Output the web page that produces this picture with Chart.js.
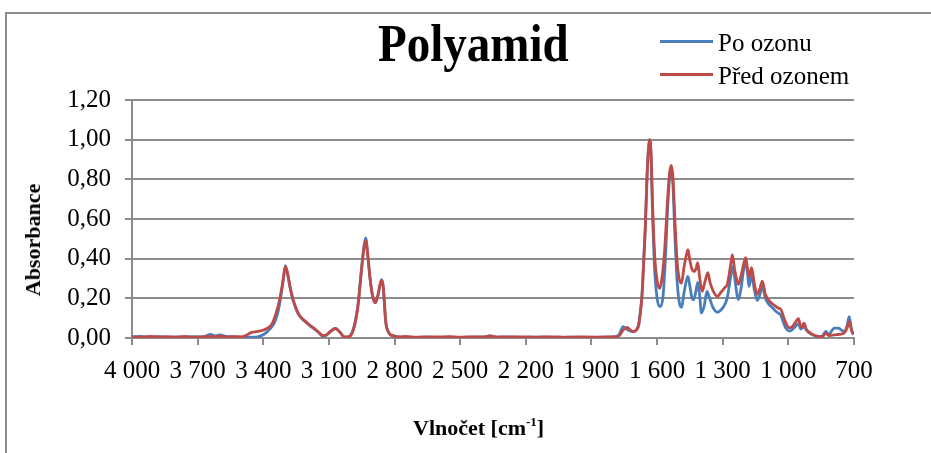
<!DOCTYPE html>
<html>
<head>
<meta charset="utf-8">
<script src="https://cdn.jsdelivr.net/npm/chart.js@4/dist/chart.umd.min.js"></script>
<style>
  html, body { margin: 0; padding: 0; background: #fff; }
  #wrap { position: relative; width: 931px; height: 453px; overflow: hidden; font-family: 'Liberation Serif', 'Times New Roman', serif; }
  #frame { position: absolute; left: 5px; top: 12px; width: 1000px; height: 500px; border-left: 2px solid #8c8c8c; border-top: 2px solid #8c8c8c; }
  #chartId { position: absolute; left: 0; top: 0; }
  .txt { position: absolute; white-space: nowrap; line-height: 1; color: #000; }
  #title { left: 378px; top: 20px; font-size: 47px; font-weight: bold; transform: scaleY(1.12); }
  .leg { position: absolute; left: 660px; width: 53px; height: 3px; }
  #xtitle { left: 413px; top: 415px; font-size: 22px; font-weight: bold; }
  #ytitle { left: 33px; top: 240px; font-size: 22px; font-weight: bold; transform: translate(-50%, -50%) rotate(-90deg); }
</style>
</head>
<body>
<div id="wrap">
  <div id="frame"></div>
  <canvas id="chartId" width="931" height="453"></canvas>
  <div class="txt" id="title">Polyamid</div>
  <div class="leg" style="top:40px; background:#4a7ebb;"></div>
  <div class="txt" style="left:718px; top:30px; font-size:25px;">Po ozonu</div>
  <div class="leg" style="top:73px; background:#be4b48;"></div>
  <div class="txt" style="left:718px; top:63px; font-size:25px;">Před ozonem</div>
  <div class="txt" id="xtitle">Vlnočet [cm<sup style="font-size:13px; vertical-align:9px;">-1</sup>]</div>
  <div class="txt" id="ytitle">Absorbance</div>
</div>
<script>
// spectrum after ozone exposure
var poWavenumber = [4000, 3960, 3920, 3880, 3840, 3800, 3760, 3720, 3680, 3640, 3620, 3600, 3570, 3540, 3500, 3460, 3425, 3395, 3370, 3350, 3334, 3318, 3308, 3299, 3290, 3275, 3265, 3250, 3235, 3204, 3185, 3166, 3145, 3128, 3110, 3090, 3070, 3050, 3030, 3015, 2995, 2980, 2967, 2952, 2940, 2932, 2922, 2912, 2900, 2888, 2875, 2866, 2859, 2852, 2840, 2825, 2810, 2780, 2750, 2700, 2650, 2600, 2550, 2500, 2450, 2400, 2365, 2340, 2300, 2250, 2200, 2150, 2100, 2050, 2000, 1950, 1900, 1850, 1800, 1775, 1755, 1740, 1722, 1707, 1695, 1684, 1675, 1669, 1660, 1654, 1646, 1639, 1634, 1628, 1620, 1610, 1600, 1590, 1582, 1572, 1562, 1552, 1542, 1535, 1528, 1518, 1508, 1497, 1488, 1478, 1466, 1459, 1450, 1440, 1432, 1422, 1414, 1406, 1397, 1385, 1372, 1360, 1345, 1325, 1305, 1290, 1279, 1265, 1256, 1245, 1235, 1228, 1215, 1205, 1195, 1187, 1180, 1168, 1155, 1142, 1130, 1119, 1105, 1089, 1070, 1058, 1045, 1035, 1020, 1012, 997, 985, 970, 954, 943, 936, 929, 918, 909, 887, 864, 845, 829, 815, 800, 790, 770, 758, 745, 732, 722, 714, 707, 700];
var poAbsorbance = [0.005, 0.008, 0.004, 0.007, 0.003, 0.006, 0.004, 0.007, 0.005, 0.018, 0.010, 0.016, 0.008, 0.006, 0.004, 0.004, 0.006, 0.020, 0.045, 0.075, 0.125, 0.220, 0.300, 0.365, 0.330, 0.240, 0.195, 0.145, 0.112, 0.079, 0.060, 0.045, 0.025, 0.010, 0.015, 0.035, 0.048, 0.030, 0.005, 0.004, 0.025, 0.080, 0.170, 0.340, 0.460, 0.505, 0.420, 0.300, 0.210, 0.178, 0.220, 0.270, 0.294, 0.260, 0.080, 0.025, 0.012, 0.005, 0.002, 0.003, 0.004, 0.003, 0.004, 0.003, 0.004, 0.004, 0.010, 0.005, 0.004, 0.004, 0.003, 0.004, 0.004, 0.003, 0.004, 0.003, 0.004, 0.003, 0.005, 0.015, 0.057, 0.045, 0.035, 0.033, 0.042, 0.070, 0.150, 0.220, 0.420, 0.560, 0.820, 0.960, 1.000, 0.930, 0.600, 0.320, 0.200, 0.160, 0.160, 0.220, 0.400, 0.650, 0.820, 0.850, 0.780, 0.500, 0.280, 0.170, 0.155, 0.220, 0.290, 0.310, 0.260, 0.200, 0.193, 0.240, 0.280, 0.220, 0.126, 0.160, 0.235, 0.200, 0.155, 0.130, 0.145, 0.170, 0.205, 0.300, 0.360, 0.300, 0.220, 0.193, 0.260, 0.340, 0.380, 0.330, 0.260, 0.320, 0.240, 0.190, 0.220, 0.260, 0.200, 0.170, 0.150, 0.135, 0.125, 0.115, 0.070, 0.050, 0.035, 0.040, 0.055, 0.072, 0.045, 0.050, 0.060, 0.040, 0.030, 0.015, 0.008, 0.010, 0.033, 0.017, 0.040, 0.050, 0.050, 0.040, 0.033, 0.060, 0.108, 0.060, 0.025, 0.020];

// spectrum before ozone exposure
var predWavenumber = [4000, 3960, 3920, 3880, 3840, 3800, 3760, 3720, 3680, 3640, 3620, 3600, 3570, 3540, 3500, 3480, 3456, 3425, 3395, 3370, 3357, 3340, 3326, 3311, 3299, 3290, 3275, 3265, 3250, 3235, 3204, 3185, 3166, 3145, 3128, 3110, 3090, 3070, 3050, 3030, 3015, 2995, 2980, 2967, 2952, 2940, 2932, 2922, 2912, 2900, 2888, 2875, 2866, 2859, 2852, 2840, 2825, 2810, 2780, 2750, 2700, 2650, 2600, 2550, 2500, 2450, 2400, 2360, 2330, 2300, 2250, 2200, 2150, 2100, 2050, 2000, 1950, 1900, 1850, 1800, 1775, 1755, 1737, 1722, 1707, 1695, 1684, 1675, 1669, 1660, 1654, 1646, 1639, 1634, 1628, 1620, 1610, 1600, 1588, 1578, 1565, 1552, 1542, 1534, 1527, 1518, 1508, 1497, 1488, 1478, 1466, 1459, 1450, 1440, 1432, 1422, 1414, 1406, 1394, 1382, 1368, 1358, 1345, 1325, 1305, 1290, 1279, 1265, 1256, 1245, 1235, 1228, 1215, 1203, 1195, 1187, 1180, 1168, 1155, 1142, 1130, 1119, 1105, 1089, 1070, 1058, 1045, 1035, 1020, 1012, 997, 985, 970, 954, 943, 936, 929, 918, 909, 887, 864, 845, 829, 815, 800, 780, 758, 745, 732, 722, 714, 707, 700];
var predAbsorbance = [0.006, 0.004, 0.008, 0.005, 0.007, 0.003, 0.008, 0.004, 0.006, 0.008, 0.005, 0.010, 0.005, 0.007, 0.006, 0.012, 0.027, 0.033, 0.042, 0.058, 0.078, 0.130, 0.190, 0.280, 0.360, 0.330, 0.245, 0.200, 0.150, 0.115, 0.080, 0.063, 0.047, 0.027, 0.012, 0.017, 0.037, 0.048, 0.030, 0.006, 0.005, 0.022, 0.075, 0.160, 0.330, 0.450, 0.490, 0.410, 0.300, 0.210, 0.178, 0.220, 0.270, 0.290, 0.260, 0.080, 0.025, 0.012, 0.006, 0.008, 0.004, 0.006, 0.005, 0.007, 0.004, 0.006, 0.005, 0.010, 0.004, 0.006, 0.005, 0.006, 0.004, 0.006, 0.005, 0.004, 0.006, 0.004, 0.005, 0.006, 0.010, 0.040, 0.054, 0.040, 0.033, 0.040, 0.065, 0.140, 0.210, 0.410, 0.550, 0.810, 0.960, 1.000, 0.940, 0.650, 0.400, 0.290, 0.250, 0.300, 0.450, 0.700, 0.840, 0.870, 0.800, 0.580, 0.380, 0.290, 0.277, 0.350, 0.420, 0.445, 0.390, 0.345, 0.336, 0.350, 0.380, 0.310, 0.235, 0.280, 0.330, 0.280, 0.240, 0.210, 0.235, 0.255, 0.270, 0.360, 0.420, 0.340, 0.290, 0.270, 0.320, 0.380, 0.405, 0.350, 0.310, 0.355, 0.270, 0.220, 0.250, 0.287, 0.220, 0.190, 0.170, 0.160, 0.150, 0.145, 0.100, 0.077, 0.052, 0.055, 0.075, 0.098, 0.055, 0.060, 0.075, 0.045, 0.033, 0.017, 0.008, 0.006, 0.025, 0.012, 0.015, 0.017, 0.020, 0.025, 0.050, 0.083, 0.050, 0.025, 0.030];

var xTicks = [4000, 3700, 3400, 3100, 2800, 2500, 2200, 1900, 1600, 1300, 1000, 700];
var yTicks = [0, 0.2, 0.4, 0.6, 0.8, 1.0, 1.2];

function toPoints(xs, ys) {
    return xs.map(function (x, i) { return { x: x, y: ys[i] }; });
}

var axisGray = '#8c8c8c';
Chart.defaults.font.family = "'Liberation Serif', 'Times New Roman', serif";
Chart.defaults.color = '#000';

var chrt = document.getElementById("chartId").getContext("2d");
var chartId = new Chart(chrt, {
    type: 'line',
    data: {
        datasets: [{
            label: "Po ozonu",
            data: toPoints(poWavenumber, poAbsorbance),
            borderColor: '#4a7ebb',
            borderWidth: 2.8,
            pointRadius: 0,
            cubicInterpolationMode: 'monotone',
            order: 2,
        }, {
            label: "Před ozonem",
            data: toPoints(predWavenumber, predAbsorbance),
            borderColor: '#be4b48',
            borderWidth: 2.8,
            pointRadius: 0,
            cubicInterpolationMode: 'monotone',
            order: 1,
        }],
    },
    options: {
        responsive: false,
        animation: false,
        layout: { padding: { top: 100, right: 77, bottom: 0, left: 0 } },
        plugins: { legend: { display: false }, tooltip: { enabled: false } },
        scales: {
            x: {
                type: 'linear',
                reverse: true,
                min: 700,
                max: 4000,
                afterBuildTicks: function (scale) {
                    scale.ticks = xTicks.map(function (v) { return { value: v }; });
                },
                afterFit: function (scale) { scale.height = 115; },
                ticks: {
                    font: { size: 25 },
                    padding: 11,
                    maxRotation: 0,
                    autoSkip: false,
                    callback: function (v) {
                        return String(v).replace(/\B(?=(\d{3})+(?!\d))/g, ' ');
                    },
                },
                grid: { drawOnChartArea: false, drawTicks: true, tickLength: 7, color: axisGray, lineWidth: 2 },
                border: { color: axisGray, width: 2 },
            },
            y: {
                min: 0,
                max: 1.2,
                afterBuildTicks: function (scale) {
                    scale.ticks = yTicks.map(function (v) { return { value: v }; });
                },
                afterFit: function (scale) { scale.width = 132; },
                ticks: {
                    font: { size: 25 },
                    padding: 14,
                    callback: function (v) { return v.toFixed(2).replace('.', ','); },
                },
                grid: { color: axisGray, lineWidth: 2, tickLength: 7 },
                border: { color: axisGray, width: 2 },
            },
        },
    },
});
</script>
</body>
</html>
